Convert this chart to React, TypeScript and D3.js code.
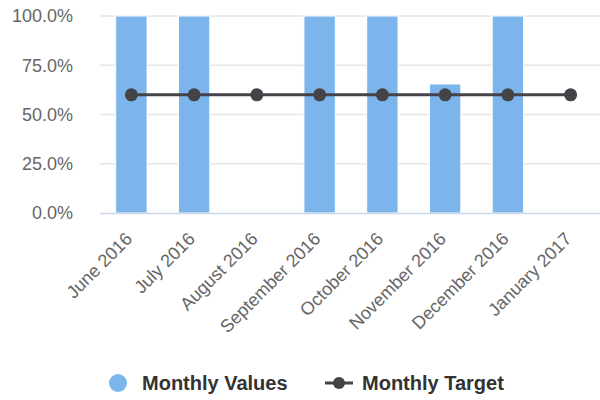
import * as d3 from "d3";

const months = [
  "June 2016",
  "July 2016",
  "August 2016",
  "September 2016",
  "October 2016",
  "November 2016",
  "December 2016",
  "January 2017",
];
const monthlyValues = [1, 1, 0, 1, 1, 0.655, 1, 0];
const monthlyTarget = [0.6, 0.6, 0.6, 0.6, 0.6, 0.6, 0.6, 0.6];
const yTicks = [0, 0.25, 0.5, 0.75, 1];

const width = 600;
const height = 400;
const margin = { top: 16, right: -2, bottom: 187, left: 100 };
const font = "'Liberation Sans', Arial, sans-serif";

export default function App() {
  const x = d3
    .scaleBand<string>()
    .domain(months)
    .range([margin.left, width - margin.right])
    .paddingInner(0.5)
    .paddingOuter(0.25);

  const y = d3
    .scaleLinear()
    .domain([0, 1])
    .range([height - margin.bottom, margin.top]);

  const center = (m: string) => (x(m) ?? 0) + x.bandwidth() / 2;
  const fmt = d3.format(".1%");

  const line = d3
    .line<number>()
    .x((_, i) => center(months[i]))
    .y((d) => y(d));

  return (
    <svg
      width={width}
      height={height}
      style={{ position: "absolute", left: 0, top: 0, background: "#fff" }}
      fontFamily={font}
    >
      {/* grid + y labels */}
      {yTicks.map((t) => (
        <g key={t}>
          {t > 0 && (
            <line
              x1={margin.left}
              x2={width}
              y1={y(t)}
              y2={y(t)}
              stroke="#e6e6e6"
              strokeWidth={1.5}
            />
          )}
          <text
            x={73}
            y={y(t)}
            dy="0.35em"
            textAnchor="end"
            fontSize={18}
            fill="#666666"
          >
            {fmt(t)}
          </text>
        </g>
      ))}

      {/* bars */}
      {months.map((m, i) =>
        monthlyValues[i] > 0 ? (
          <rect
            key={m}
            x={x(m)}
            y={y(monthlyValues[i])}
            width={x.bandwidth()}
            height={y(0) - y(monthlyValues[i])}
            fill="#7cb5ec"
            stroke="#ffffff"
            strokeWidth={1}
          />
        ) : null,
      )}

      {/* x axis */}
      <line
        x1={margin.left}
        x2={width}
        y1={y(0) + 0.5}
        y2={y(0) + 0.5}
        stroke="#ccd6eb"
        strokeWidth={1.5}
      />
      {months.map((m) => (
        <text
          key={m}
          transform={`translate(${center(m) + 2},${y(0) + 27}) rotate(-45)`}
          textAnchor="end"
          fontSize={18}
          fill="#666666"
        >
          {m}
        </text>
      ))}

      {/* target line */}
      <path d={line(monthlyTarget) ?? ""} fill="none" stroke="#434348" strokeWidth={3} />
      {monthlyTarget.map((v, i) => (
        <circle key={i} cx={center(months[i])} cy={y(v)} r={6.5} fill="#434348" />
      ))}

      {/* legend */}
      <g fontSize={20} fontWeight="bold" fill="#333333">
        <circle cx={118} cy={383} r={9} fill="#7cb5ec" />
        <text x={142} y={383} dy="0.35em">
          Monthly Values
        </text>
        <line x1={325} x2={353} y1={383} y2={383} stroke="#434348" strokeWidth={3} />
        <circle cx={339} cy={383} r={6} fill="#434348" />
        <text x={362} y={383} dy="0.35em">
          Monthly Target
        </text>
      </g>
    </svg>
  );
}
